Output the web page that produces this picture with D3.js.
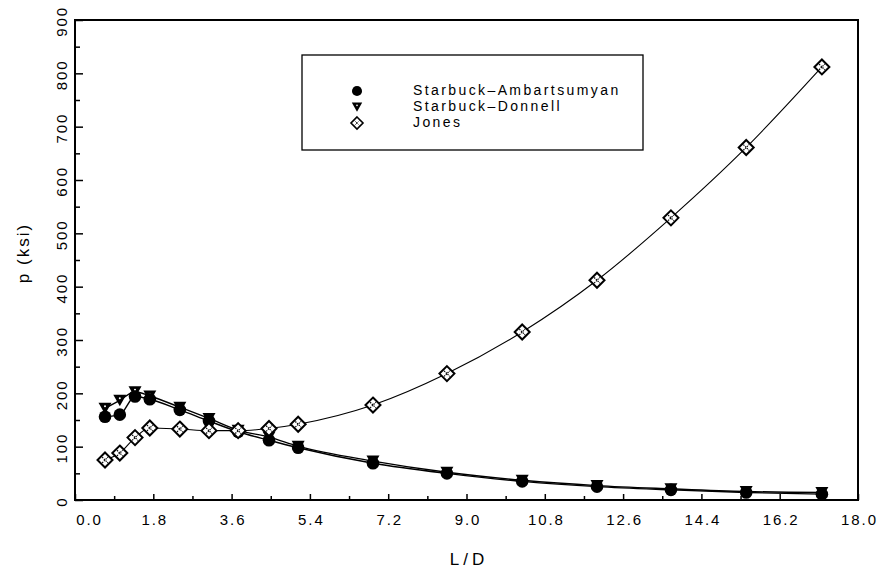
<!DOCTYPE html>
<html>
<head>
<meta charset="utf-8">
<script src="https://cdn.jsdelivr.net/npm/d3@7"></script>
<style>
  html, body { margin: 0; padding: 0; background: #fff; }
  svg { display: block; }
  text { font-family: "Liberation Sans", Arial, sans-serif; fill: #000; }
</style>
</head>
<body>
<svg id="chart" width="881" height="574"></svg>
<script>
// L/D ratios shared by all three series
const ratioLD = [0.69, 1.03, 1.38, 1.72, 2.41, 3.08, 3.75, 4.46, 5.13, 6.85, 8.55, 10.28, 12.0, 13.7, 15.43, 17.17];
// Collapse pressure p (ksi)
const starbuckAmbartsumyan = [156, 160, 194, 189, 169, 148, 128, 112, 98, 69, 50, 35, 25, 19, 14, 11];
const starbuckDonnell      = [172, 187, 203, 195, 174, 153, 131, 118, 101, 73, 52, 37, 27, 21, 16, 14];
const jones                = [75, 88, 117, 135, 133, 130, 130, 134, 142, 178, 237, 315, 412, 529, 661, 812];

const seriesNames = ["Starbuck\u2013Ambartsumyan", "Starbuck\u2013Donnell", "Jones"];
const xTickValues = [0, 1.8, 3.6, 5.4, 7.2, 9.0, 10.8, 12.6, 14.4, 16.2, 18.0];
const yTickValues = [0, 100, 200, 300, 400, 500, 600, 700, 800, 900];

const svg = d3.select("#chart");
const plotLeft = 75, plotRight = 858, plotTop = 20, plotBottom = 500;

const x = d3.scaleLinear().domain([0, 18]).range([plotLeft, plotRight]);
const y = d3.scaleLinear().domain([0, 900]).range([plotBottom, plotTop]);

const FONT = 15, SPACING = 1.9;

// frame
svg.append("rect")
  .attr("x", plotLeft).attr("y", plotTop)
  .attr("width", plotRight - plotLeft).attr("height", plotBottom - plotTop)
  .attr("fill", "none").attr("stroke", "#000").attr("stroke-width", 2);

// x axis: major ticks (labelled) and minor ticks, pointing inward
const xMajor = svg.append("g").attr("transform", `translate(0,${plotBottom})`)
  .call(d3.axisBottom(x).tickValues(xTickValues).tickSize(-6).tickPadding(14)
        .tickFormat(d3.format(".1f")));
xMajor.select(".domain").remove();
xMajor.selectAll("line").attr("stroke-width", 1.5);
xMajor.selectAll("text").attr("font-size", FONT).attr("letter-spacing", SPACING)
  .attr("font-family", "Liberation Sans, Arial, sans-serif")
  .attr("dx", d => d === 0 ? 14 : 1);

const xMinor = svg.append("g").attr("transform", `translate(0,${plotBottom})`)
  .call(d3.axisBottom(x).tickValues(d3.range(0.9, 18, 1.8)).tickSize(-4).tickFormat(""));
xMinor.select(".domain").remove();
xMinor.selectAll("line").attr("stroke-width", 1.5);

// y axis: major ticks (labelled, rotated) and minor ticks, pointing inward
const yMajor = svg.append("g").attr("transform", `translate(${plotLeft},0)`)
  .call(d3.axisLeft(y).tickValues(yTickValues).tickSize(-8).tickFormat(d3.format("d")));
yMajor.select(".domain").remove();
yMajor.selectAll("line").attr("stroke-width", 1.5);
yMajor.selectAll("text")
  .attr("font-size", FONT).attr("letter-spacing", SPACING)
  .attr("font-family", "Liberation Sans, Arial, sans-serif")
  .attr("x", 0).attr("dy", 0)
  .attr("text-anchor", "middle")
  .attr("transform", "translate(-8,1) rotate(-90)");

const yMinor = svg.append("g").attr("transform", `translate(${plotLeft},0)`)
  .call(d3.axisLeft(y).tickValues(d3.range(50, 900, 100)).tickSize(-5).tickFormat(""));
yMinor.select(".domain").remove();
yMinor.selectAll("line").attr("stroke-width", 1.5);

// axis titles
svg.append("text")
  .attr("x", 469).attr("y", 561)
  .attr("text-anchor", "middle").attr("dominant-baseline", "middle")
  .attr("font-size", 17).attr("letter-spacing", 4)
  .text("L/D");
svg.append("text")
  .attr("transform", "translate(25,253) rotate(-90)")
  .attr("text-anchor", "middle").attr("dominant-baseline", "middle")
  .attr("font-size", 17).attr("letter-spacing", 2)
  .text("p (ksi)");

// curves
const line = d3.line().x(d => x(d[0])).y(d => y(d[1])).curve(d3.curveMonotoneX);
const pairs = vals => ratioLD.map((r, i) => [r, vals[i]]);

[[starbuckAmbartsumyan, 1.4], [starbuckDonnell, 1.4], [jones, 1.1]].forEach(([vals, w]) => {
  svg.append("path").datum(pairs(vals))
    .attr("d", line).attr("fill", "none")
    .attr("stroke", "#000").attr("stroke-width", w);
});

// marker drawers
function drawCircle(g) {
  g.append("circle").attr("r", 6.3).attr("fill", "#000");
}
function drawTriangle(g) {
  g.append("path").attr("d", "M-6.5,-5.5 L6.5,-5.5 L0,6 Z").attr("fill", "#000");
  g.append("circle").attr("cx", 0).attr("cy", -2).attr("r", 1).attr("fill", "#fff");
}
function drawDiamond(g) {
  g.append("path").attr("d", "M0,-7.5 L7.5,0 L0,7.5 L-7.5,0 Z")
    .attr("fill", "#fff").attr("stroke", "#000").attr("stroke-width", 2);
  g.append("path").attr("d", "M-2.8,-2.8 L2.8,2.8 M-2.8,2.8 L2.8,-2.8")
    .attr("stroke", "#000").attr("stroke-width", 1.2).attr("stroke-dasharray", "1.4,1");
}
const drawers = [drawCircle, drawTriangle, drawDiamond];

// Starbuck-Donnell triangles first, then circles over them, then Jones diamonds
[[starbuckDonnell, drawTriangle], [starbuckAmbartsumyan, drawCircle], [jones, drawDiamond]]
  .forEach(([vals, draw]) => {
    svg.append("g").selectAll("g").data(pairs(vals)).join("g")
      .attr("transform", d => `translate(${x(d[0])},${y(d[1])})`)
      .each(function () { draw(d3.select(this)); });
  });

// legend
const legend = svg.append("g");
legend.append("rect")
  .attr("x", 302).attr("y", 55).attr("width", 341).attr("height", 95)
  .attr("fill", "#fff").attr("stroke", "#000").attr("stroke-width", 1.3);
const legendRows = [91, 107, 123];
seriesNames.forEach((name, i) => {
  const g = legend.append("g").attr("transform", `translate(357,${legendRows[i]})`);
  const s = g.append("g").attr("transform", "scale(0.8)");
  drawers[i](s);
  legend.append("text")
    .attr("x", 413).attr("y", legendRows[i])
    .attr("dominant-baseline", "middle")
    .attr("font-size", 14).attr("letter-spacing", 2.4)
    .text(name);
});
</script>
</body>
</html>
